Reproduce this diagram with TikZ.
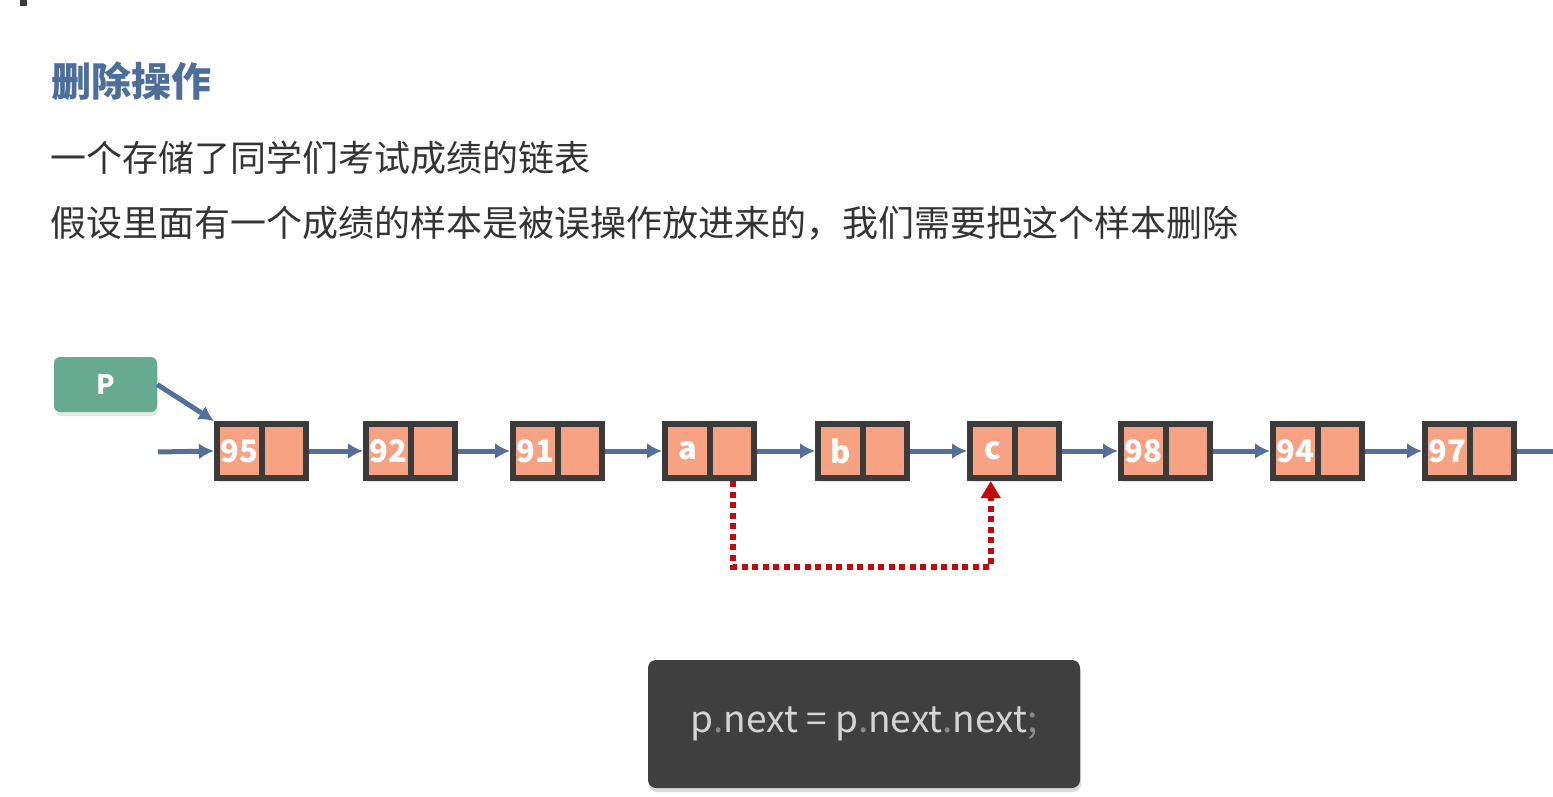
\documentclass[tikz,border=0pt]{standalone}
\usepackage{fontspec}
\setmainfont{Noto Sans CJK SC}
\usepackage{tikz}
\usetikzlibrary{calc}
\usetikzlibrary{arrows.meta}
\usetikzlibrary{shadows}
\definecolor{titleblue}{HTML}{4E6E9A}
\definecolor{bodytxt}{HTML}{333333}
\definecolor{pgreen}{HTML}{68A991}
\definecolor{cellfill}{HTML}{F7A283}
\definecolor{cellborder}{HTML}{3B3B3B}
\definecolor{linkblue}{HTML}{54709A}
\definecolor{jumpred}{HTML}{C00C0C}
\definecolor{codebg}{HTML}{3F3F3F}
\definecolor{codetxt}{HTML}{D4D4D4}
\definecolor{codedot}{HTML}{8A8A8A}
\newcommand{\listnode}[3]{%
  \node[cellbox] (#1) at (#2,451) {};
  \draw[cellline] (#1.north) -- (#1.south);
  \node[celltxt] at ($(#1.center)!0.5!(#1.west)+(2,0)$) {#3};}
\newcommand{\cdt}{\textcolor{codedot}{.}}

\begin{document}
\begin{tikzpicture}[x=1pt, y=-1pt,
    cellbox/.style={draw=cellborder, line width=6pt, fill=cellfill,
      minimum width=89pt, minimum height=54pt, inner sep=0pt,
      drop shadow={shadow xshift=1pt, shadow yshift=-4pt, opacity=0.2}},
    cellline/.style={draw=cellborder, line width=6pt},
    celltxt/.style={text=white, font=\fontsize{31}{31}\selectfont\bfseries},
    link/.style={draw=linkblue, line width=5pt, -{Latex[length=15pt,width=16pt]}},
    jump/.style={draw=jumpred, line width=6pt, dash pattern=on 6pt off 4.5pt,
      -{Triangle[length=17pt,width=19pt]}}]
    \useasboundingbox (0,0) rectangle (1553,797);
    \fill[cellborder] (20,0) rectangle (27,6);
    % texts
    \node[anchor=west, text=titleblue, font=\fontsize{40}{40}\selectfont\bfseries]
      (title) at (48,81) {删除操作};
    \node[anchor=west, text=bodytxt, font=\fontsize{36}{36}\selectfont]
      (line1) at (47,158) {一个存储了同学们考试成绩的链表};
    \node[anchor=west, text=bodytxt, font=\fontsize{36}{36}\selectfont]
      (line2) at (47,223) {假设里面有一个成绩的样本是被误操作放进来的，我们需要把这个样本删除};
    % pointer
    \node[fill=pgreen, rounded corners=6pt, minimum width=103pt, minimum height=55pt,
      text=white, font=\fontsize{27}{27}\selectfont\bfseries,
      drop shadow={shadow xshift=1pt, shadow yshift=-4pt, opacity=0.2}]
      (p) at (105.5,384.5) {P};
    % list
    \listnode{n95}{261.5}{95}
    \listnode{n92}{410.5}{92}
    \listnode{n91}{557.5}{91}
    \listnode{na}{709.5}{a}
    \listnode{nb}{862.5}{b}
    \listnode{nc}{1014.5}{c}
    \listnode{n98}{1165.5}{98}
    \listnode{n94}{1317.5}{94}
    \listnode{n97}{1469.5}{97}
    \coordinate (head) at (158,452);
    \coordinate (tail) at (1553,451);
    \draw[link] (head) -- (n95.west);
    \draw[link] (p.east) -- (n95.north west);
    \draw[link] (n95) -- (n92);
    \draw[link] (n92) -- (n91);
    \draw[link] (n91) -- (na);
    \draw[link] (na) -- (nb);
    \draw[link] (nb) -- (nc);
    \draw[link] (nc) -- (n98);
    \draw[link] (n98) -- (n94);
    \draw[link] (n94) -- (n97);
    \draw[draw=linkblue, line width=5pt] (n97.east) -- (tail);
    % deletion jump
    \draw[jump] ($(na.south)!0.5!(na.south east)$) -- ++(0,86)
      -| ($(nc.south)!0.5!(nc.south west)$);
    % code
    \node[fill=codebg, rounded corners=8pt, minimum width=432pt, minimum height=128pt,
      text=codetxt, font=\fontsize{37}{37}\selectfont,
      drop shadow={shadow xshift=1pt, shadow yshift=-4pt, opacity=0.3}]
      (code) at (864,724) {p\cdt next = p\cdt next\cdt next\textcolor{codedot}{;}};
\end{tikzpicture}
\end{document}
